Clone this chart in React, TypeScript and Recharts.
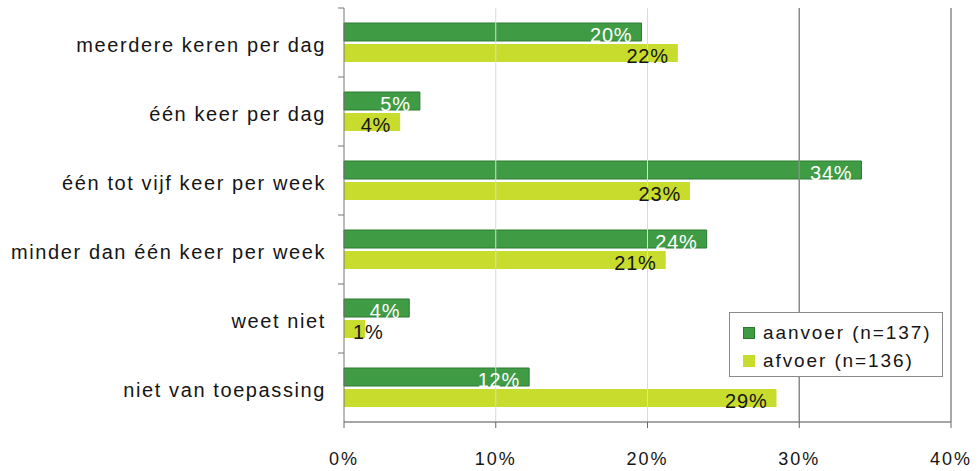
import React from "react";
import {
    BarChart,
    Bar,
    XAxis,
    YAxis,
    Legend,
    LabelList,
    ReferenceLine,
} from "recharts";

const categories = [
    "meerdere keren per dag",
    "één keer per dag",
    "één tot vijf keer per week",
    "minder dan één keer per week",
    "weet niet",
    "niet van toepassing",
];
const aanvoer = [19.6, 5.0, 34.1, 23.9, 4.3, 12.2];
const afvoer = [22.0, 3.7, 22.8, 21.2, 1.4, 28.5];
const xTicks = [0, 10, 20, 30, 40];
const seriesNames = ["aanvoer (n=137)", "afvoer (n=136)"];

const WIDTH = 980;
const HEIGHT = 471;
const MARGIN = { top: 8, right: 29, bottom: 0, left: 0 };
const X_AXIS_HEIGHT = 49;
const BAND = (HEIGHT - MARGIN.top - MARGIN.bottom - X_AXIS_HEIGHT) / categories.length;

const FONT = "'Liberation Sans', Arial, sans-serif";
const DARK = "#3f9c45";
const DARK_EDGE = "#2a7b30";
const LIGHT = "#c8dc2e";

const data = categories.map((name, i) => ({
    name,
    aanvoer: aanvoer[i],
    afvoer: afvoer[i],
}));

function CategoryTick(props: any) {
    const { x, y, payload } = props;
    return (
        <g>
            <line x1={344} x2={338} y1={y - BAND / 2} y2={y - BAND / 2} stroke="#777" />
            <text
                x={x}
                y={y + 9.5}
                textAnchor="end"
                fill="#151515"
                fontSize={20}
                fontFamily={FONT}
                letterSpacing={1.6}
            >
                {payload.value}
            </text>
        </g>
    );
}

function makeBarLabel(color: string) {
    return function BarLabel(props: any) {
        const { x, y, width, height, value } = props;
        const label = `${Math.round(value)}%`;
        const fits = width > label.length * 12 + 12;
        return (
            <text
                x={fits ? x + width - 9 : x + 9}
                y={y + height + 0.5}
                textAnchor={fits ? "end" : "start"}
                fill={color}
                fontSize={20}
                fontFamily={FONT}
                letterSpacing={0.8}
            >
                {label}
            </text>
        );
    };
}

function LegendBox() {
    const colors = [DARK, LIGHT];
    return (
        <div
            style={{
                width: 214,
                height: 65,
                border: "1px solid #8a8a8a",
                background: "#fff",
                boxSizing: "border-box",
                padding: "6px 0 0 13px",
                fontFamily: FONT,
                fontSize: 19,
                letterSpacing: 1.9,
                color: "#151515",
            }}
        >
            {seriesNames.map((n, i) => (
                <div key={n} style={{ display: "flex", alignItems: "center", height: 28 }}>
                    <span
                        style={{
                            width: 12,
                            height: 12,
                            background: colors[i],
                            border: i === 0 ? `1px solid ${DARK_EDGE}` : "none",
                            boxSizing: "border-box",
                            marginRight: 8,
                        }}
                    />
                    {n}
                </div>
            ))}
        </div>
    );
}

export default function App() {
    return (
        <div style={{ position: "absolute", left: 0, top: 0, width: WIDTH, height: HEIGHT, background: "#fff" }}>
            <BarChart
                width={WIDTH}
                height={HEIGHT}
                data={data}
                layout="vertical"
                margin={MARGIN}
                barSize={18}
                barGap={3}
            >
                {xTicks.slice(1).map((t) => (
                    <ReferenceLine
                        key={t}
                        x={t}
                        stroke={t >= 30 ? "#8a8a8a" : "#dadada"}
                        strokeWidth={t >= 30 ? 1.5 : 1}
                    />
                ))}
                <XAxis
                    type="number"
                    domain={[0, 40]}
                    ticks={xTicks}
                    tickFormatter={(v) => `${v}%`}
                    height={X_AXIS_HEIGHT}
                    axisLine={{ stroke: "#888", strokeWidth: 1.5 }}
                    tickLine={{ stroke: "#666" }}
                    tickSize={6}
                    tickMargin={24}
                    tick={{ fill: "#151515", fontSize: 18, fontFamily: FONT, letterSpacing: 2 }}
                />
                <YAxis
                    type="category"
                    dataKey="name"
                    width={344}
                    axisLine={{ stroke: "#777" }}
                    tickLine={false}
                    tickSize={0}
                    tickMargin={18}
                    tick={<CategoryTick />}
                    interval={0}
                />
                <Legend
                    layout="vertical"
                    align="center"
                    verticalAlign="middle"
                    content={<LegendBox />}
                    wrapperStyle={{ left: 729, top: 312, width: 214 }}
                />
                <Bar
                    dataKey="aanvoer"
                    fill={DARK}
                    stroke={DARK_EDGE}
                    strokeWidth={1}
                    isAnimationActive={false}
                >
                    <LabelList dataKey="aanvoer" content={makeBarLabel("#ffffff")} />
                </Bar>
                <Bar dataKey="afvoer" fill={LIGHT} isAnimationActive={false}>
                    <LabelList dataKey="afvoer" content={makeBarLabel("#151515")} />
                </Bar>
            </BarChart>
        </div>
    );
}
